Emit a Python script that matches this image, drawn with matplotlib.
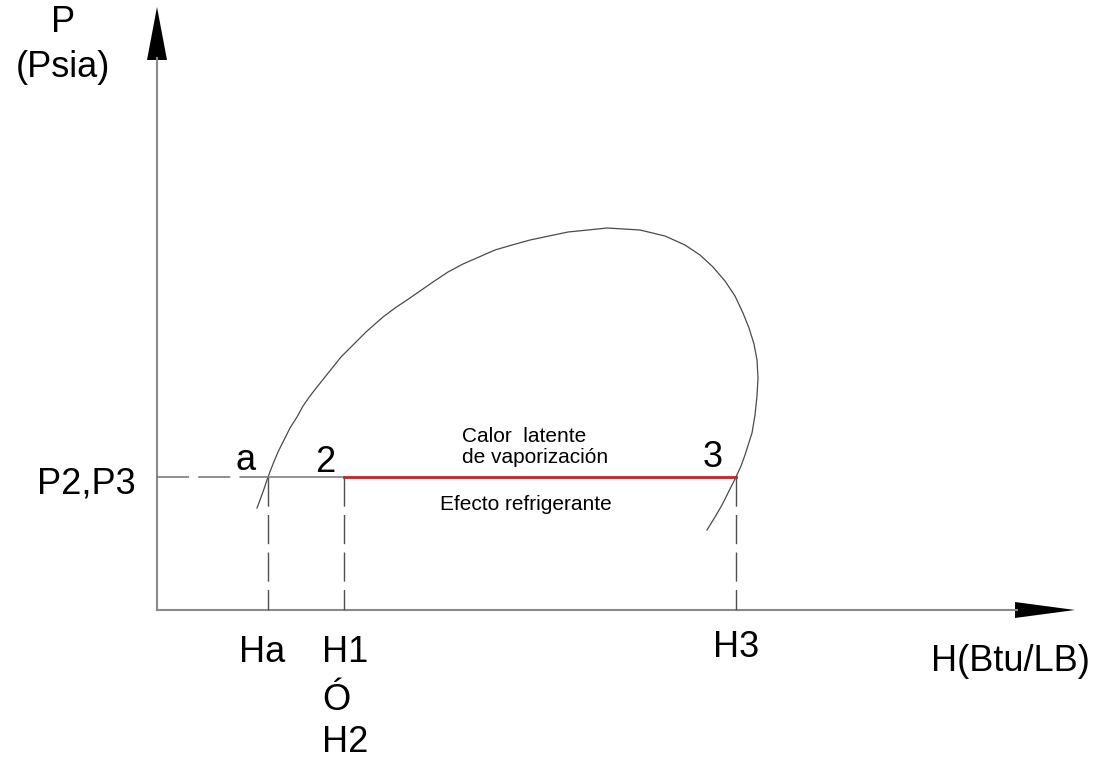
import matplotlib
matplotlib.use("Agg")
import matplotlib.pyplot as plt
from matplotlib.patches import Polygon

# --- schematic P-H diagram values (canvas units, y measured upward) ---
h_labels = ["Ha", "H1", "H3"]
h_values = [268, 344, 736]          # enthalpy positions of points a, 2 and 3
p_level = 294                       # pressure P2 = P3

# saturation dome, read as (H, P) pairs from bottom-left round to bottom-right
dome_h = [257, 260, 264, 268, 273, 278, 284, 290, 297, 303, 310, 317, 325, 333,
          341, 350, 358, 366, 375, 383, 395, 407, 420, 433, 448, 463, 479, 495,
          512, 530, 549, 568, 588, 607,
          640, 665, 685, 700, 713, 725, 735, 743, 749, 754, 757, 758, 757, 755,
          752, 745, 741, 736, 722, 715, 707]
dome_p = [263, 271, 282, 294, 307, 319, 331, 343, 354, 365, 375, 384, 394, 404,
          414, 423, 431, 439, 447, 454, 463, 471, 480, 489, 499, 507, 514, 521,
          526, 531, 535, 539, 541, 543,
          541, 535, 526, 516, 504, 490, 475, 458, 443, 427, 411, 393, 375, 356,
          338, 316, 305, 294, 266, 254, 241]

# --- layout ---
W, H = 1103, 771
origin = (157, 161)
y_tip, y_head = 764, 711
x_tip, x_head = 1075, 1015
font = "Liberation Sans"
axis_col = "#8a8a8a"

fig = plt.figure(figsize=(W / 100, H / 100), dpi=100)
ax = fig.add_axes([0, 0, 1, 1])
ax.set_xlim(0, W)
ax.set_ylim(0, H)
ax.axis("off")

# axes with arrowheads
ax.plot([origin[0], origin[0]], [origin[1], y_head + 2], color=axis_col, lw=1.5)
ax.plot([origin[0], x_head + 2], [origin[1], origin[1]], color=axis_col, lw=1.5)
ax.add_patch(Polygon([(origin[0], y_tip), (origin[0] - 10, y_head), (origin[0] + 10, y_head)],
                     closed=True, color="black", lw=0))
ax.add_patch(Polygon([(x_tip, origin[1]), (x_head, origin[1] + 8), (x_head, origin[1] - 8)],
                     closed=True, color="black", lw=0))

# saturation dome
ax.plot(dome_h, dome_p, color="#4a4a4a", lw=0.9, solid_joinstyle="round")

# constant pressure line P2,P3
dash = (0, (21, 6))
ax.plot([origin[0], h_values[0]], [p_level, p_level], color="#707070", lw=1.1, linestyle=dash)
ax.plot([h_values[0], h_values[1]], [p_level, p_level], color=axis_col, lw=1.3)
ax.plot([h_values[1], h_values[2]], [p_level, p_level], color="#cc2020", lw=2.0)

# projections down to the H axis
for hv in h_values:
    ax.plot([hv, hv], [p_level, origin[1]], color="#505050", lw=1.0, linestyle=dash)

big = dict(fontsize=26, family=font, color="black", va="baseline")
small = dict(fontsize=15, family=font, color="black", va="baseline")

ax.text(63, 739, "P", ha="center", **big)
ax.text(63, 694, "(Psia)", ha="center", **big)
ax.text(86, 278, "P2,P3", ha="center", **big)

ax.text(246, 301, "a", ha="center", **big)
ax.text(325, 299, "2", ha="center", **big)
ax.text(713, 304, "3", ha="center", **big)

ax.text(h_values[0] - 6, 109, h_labels[0], ha="center", **big)
ax.text(322, 109, h_labels[1], ha="left", **big)
ax.text(322, 61, "Ó", ha="left", **big)
ax.text(322, 19, "H2", ha="left", **big)
ax.text(713, 114, h_labels[2], ha="left", **big)
ax.text(1090, 100, "H(Btu/LB)", ha="right", **big)

ax.text(462, 329, "Calor  latente", ha="left", **small)
ax.text(462, 308, "de vaporización", ha="left", **small)
ax.text(440, 261, "Efecto refrigerante", ha="left", **small)

fig.savefig("out.png", dpi=100, facecolor="white")
